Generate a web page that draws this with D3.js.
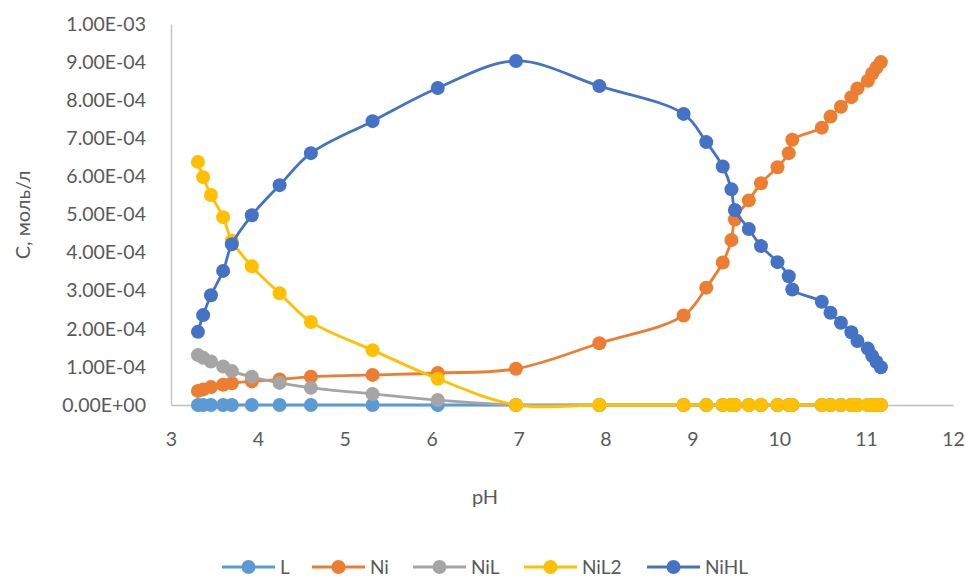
<!DOCTYPE html>
<html>
<head>
<meta charset="utf-8">
<script src="https://cdn.jsdelivr.net/npm/d3@7"></script>
<style>
  html, body { margin: 0; padding: 0; background: #fff; }
  svg { display: block; font-family: Lato, "Open Sans", sans-serif; }
</style>
</head>
<body>
<svg id="chart" width="966" height="578"></svg>
<script>
// pH points shared by every species
const pH = [3.31, 3.37, 3.46, 3.60, 3.70, 3.93, 4.25, 4.61, 5.32, 6.07, 6.97, 7.93, 8.90, 9.16, 9.35, 9.45, 9.49,
            9.65, 9.79, 9.98, 10.11, 10.15, 10.49, 10.59, 10.71, 10.83, 10.90, 11.02, 11.07, 11.12, 11.17];

// concentrations, mol/l
const L    = [0, 0, 0, 0, 0, 0, 0, 0, 0, 0, 0, 0, 0, 0, 0, 0, 0, 0, 0, 0, 0, 0, 0, 0, 0, 0, 0, 0, 0, 0, 0];
const Ni   = [0.37e-4, 0.41e-4, 0.47e-4, 0.53e-4, 0.57e-4, 0.62e-4, 0.67e-4, 0.74e-4, 0.79e-4, 0.84e-4, 0.95e-4,
              1.62e-4, 2.35e-4, 3.08e-4, 3.74e-4, 4.33e-4, 4.87e-4, 5.37e-4, 5.82e-4, 6.24e-4, 6.61e-4, 6.96e-4,
              7.28e-4, 7.57e-4, 7.83e-4, 8.08e-4, 8.31e-4, 8.51e-4, 8.70e-4, 8.86e-4, 9.00e-4];
const NiL  = [1.31e-4, 1.24e-4, 1.14e-4, 1.01e-4, 0.89e-4, 0.74e-4, 0.58e-4, 0.45e-4, 0.29e-4, 0.13e-4, 0,
              0, 0, 0, 0, 0, 0, 0, 0, 0, 0, 0, 0, 0, 0, 0, 0, 0, 0, 0, 0];
const NiL2 = [6.38e-4, 5.98e-4, 5.51e-4, 4.93e-4, 4.31e-4, 3.64e-4, 2.93e-4, 2.18e-4, 1.44e-4, 0.69e-4, 0,
              0, 0, 0, 0, 0, 0, 0, 0, 0, 0, 0, 0, 0, 0, 0, 0, 0, 0, 0, 0];
const NiHL = [1.92e-4, 2.36e-4, 2.88e-4, 3.52e-4, 4.22e-4, 4.98e-4, 5.77e-4, 6.61e-4, 7.45e-4, 8.32e-4, 9.03e-4,
              8.37e-4, 7.64e-4, 6.90e-4, 6.26e-4, 5.66e-4, 5.12e-4, 4.62e-4, 4.17e-4, 3.75e-4, 3.38e-4, 3.03e-4,
              2.71e-4, 2.42e-4, 2.16e-4, 1.91e-4, 1.68e-4, 1.48e-4, 1.29e-4, 1.13e-4, 0.99e-4];

const seriesNames = ["L", "Ni", "NiL", "NiL2", "NiHL"];
const seriesValues = [L, Ni, NiL, NiL2, NiHL];
const seriesColors = ["#5B9BD5", "#ED7D31", "#A5A5A5", "#FFC000", "#4472C4"];

const xTicks = [3, 4, 5, 6, 7, 8, 9, 10, 11, 12];
const yTicks = [0, 1e-4, 2e-4, 3e-4, 4e-4, 5e-4, 6e-4, 7e-4, 8e-4, 9e-4, 1e-3];
const yTickLabels = ["0.00E+00", "1.00E-04", "2.00E-04", "3.00E-04", "4.00E-04", "5.00E-04",
                     "6.00E-04", "7.00E-04", "8.00E-04", "9.00E-04", "1.00E-03"];

const svg = d3.select("#chart");
const plot = { left: 171, right: 953, top: 24, bottom: 405 };

const x = d3.scaleLinear().domain([3, 12]).range([plot.left, plot.right]);
const y = d3.scaleLinear().domain([0, 1e-3]).range([plot.bottom, plot.top]);

const textColor = "#595959";
const axisColor = "#BFBFBF";

// y axis
const yAxis = svg.append("g")
  .attr("transform", `translate(${plot.left},0)`)
  .call(d3.axisLeft(y).tickValues(yTicks).tickSize(0).tickPadding(25)
    .tickFormat((d, i) => yTickLabels[i]));
yAxis.select(".domain").attr("stroke", axisColor).attr("stroke-width", 1.3);
yAxis.selectAll("text").attr("fill", textColor).style("font-size", "19.5px")
  .style("font-family", "Lato, 'Open Sans', sans-serif");

// x axis
const xAxis = svg.append("g")
  .attr("transform", `translate(0,${plot.bottom})`)
  .call(d3.axisBottom(x).tickValues(xTicks).tickSize(0).tickPadding(27).tickFormat(d3.format("d")));
xAxis.select(".domain").attr("stroke", axisColor).attr("stroke-width", 1.3);
xAxis.selectAll("text").attr("fill", textColor).style("font-size", "19.5px")
  .style("font-family", "Lato, 'Open Sans', sans-serif");

// axis titles
svg.append("text")
  .attr("x", (plot.left + plot.right) / 2 - 77).attr("y", 504)
  .attr("text-anchor", "middle").attr("fill", textColor).style("font-size", "20px")
  .text("pH");
svg.append("text")
  .attr("transform", "translate(30,215) rotate(-90)")
  .attr("text-anchor", "middle").attr("fill", textColor).style("font-size", "20px")
  .text("С, моль/л");

// series: smoothed line plus round markers
const line = d3.line()
  .x(d => x(d[0]))
  .y(d => y(d[1]))
  .curve(d3.curveCatmullRom.alpha(0.5));

seriesValues.forEach((vals, si) => {
  const pts = pH.map((p, i) => [p, vals[i]]);
  const g = svg.append("g");
  g.append("path")
    .attr("d", line(pts))
    .attr("fill", "none")
    .attr("stroke", seriesColors[si])
    .attr("stroke-width", 2.8)
    .attr("stroke-linejoin", "round");
  g.selectAll("circle").data(pts).join("circle")
    .attr("cx", d => x(d[0]))
    .attr("cy", d => y(d[1]))
    .attr("r", 7)
    .attr("fill", seriesColors[si]);
});

// legend
const legendX = [222, 312, 413, 524, 647];
const legend = svg.append("g");
seriesNames.forEach((name, i) => {
  const lx = legendX[i], ly = 567;
  legend.append("line")
    .attr("x1", lx).attr("x2", lx + 53).attr("y1", ly).attr("y2", ly)
    .attr("stroke", seriesColors[i]).attr("stroke-width", 2.8);
  legend.append("circle")
    .attr("cx", lx + 26.5).attr("cy", ly).attr("r", 7).attr("fill", seriesColors[i]);
  legend.append("text")
    .attr("x", lx + 58).attr("y", ly).attr("dy", "0.35em")
    .attr("fill", textColor).style("font-size", "19px")
    .text(name);
});
</script>
</body>
</html>
